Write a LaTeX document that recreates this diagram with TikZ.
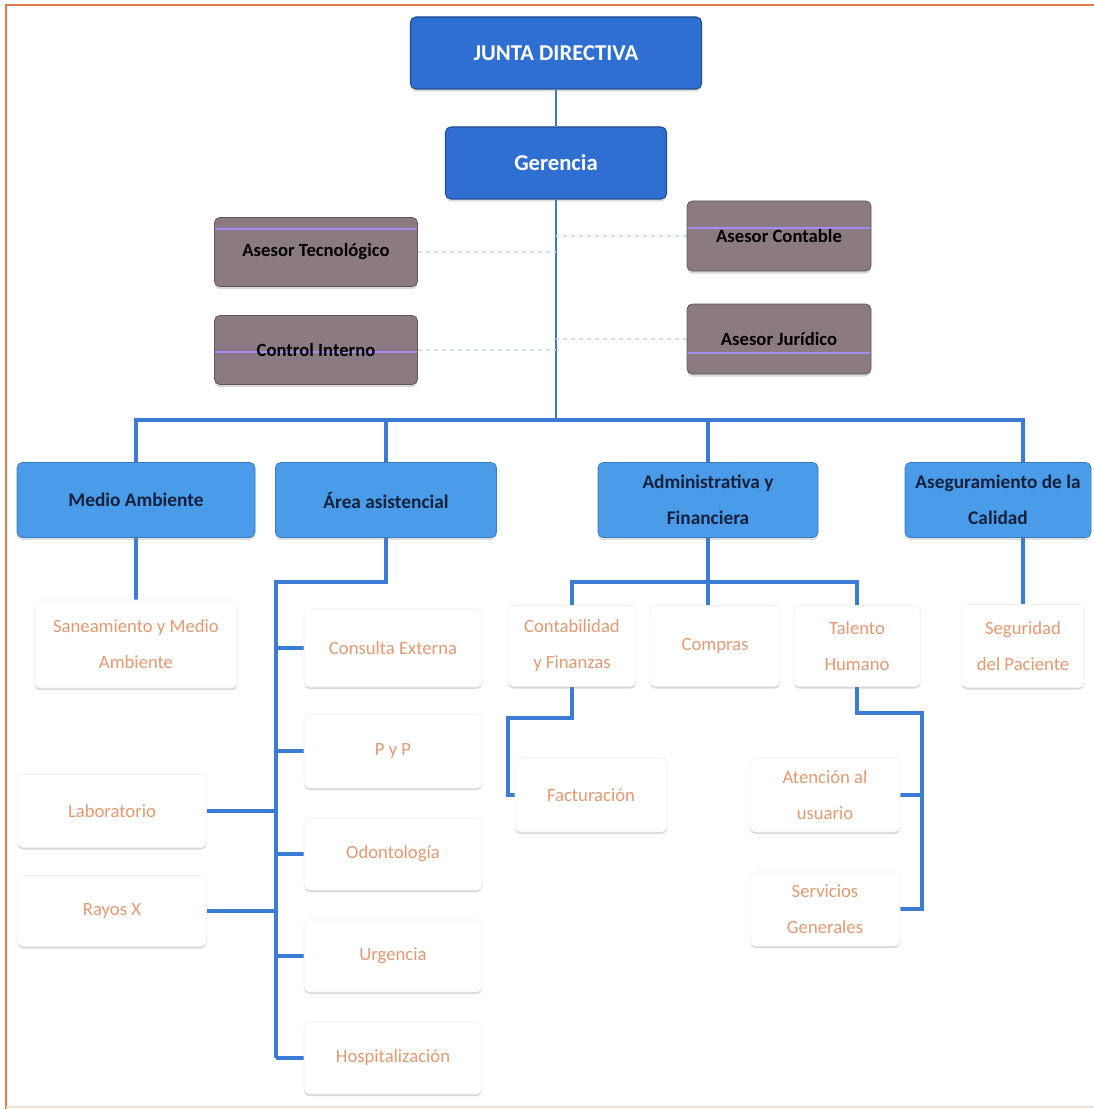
\documentclass[tikz,border=0pt]{standalone}
\usepackage{fontspec}
\setmainfont{Carlito}
\usetikzlibrary{shadows,backgrounds,calc}
\definecolor{topblue}{HTML}{2F6FD2}
\definecolor{lvlblue}{HTML}{4A9BE8}
\definecolor{advgray}{HTML}{8A7B82}
\definecolor{leaftext}{HTML}{E39A72}
\definecolor{linkblue}{HTML}{3B7BD4}
\definecolor{framecol}{HTML}{E07A50}
\definecolor{navy}{HTML}{14213D}
\definecolor{faintblue}{HTML}{CFE0F2}
\definecolor{lilac}{HTML}{A58CF0}
\tikzset{
  sz/.style 2 args={minimum width=0.75pt*#1, minimum height=0.75pt*#2},
  basebox/.style={rounded corners=4pt, inner sep=0pt, align=center},
  topbox/.style={basebox, fill=topblue, draw=topblue!70!black, line width=0.8pt, text=white,
     font=\bfseries\fontsize{17}{20}\selectfont,
     drop shadow={opacity=0.25, shadow xshift=0pt, shadow yshift=-2pt}},
  lvlbox/.style={basebox, fill=lvlblue, draw=lvlblue!80!black, line width=0.6pt, text=navy,
     font=\bfseries\fontsize{14.5}{27}\selectfont,
     drop shadow={opacity=0.25, shadow xshift=0pt, shadow yshift=-2pt}},
  advbox/.style={basebox, fill=advgray, draw=advgray!70!black, line width=0.6pt, text=black,
     font=\bfseries\fontsize{14}{17}\selectfont,
     drop shadow={opacity=0.3, shadow xshift=0pt, shadow yshift=-2pt}},
  leafbox/.style={basebox, fill=white, draw=black!6, line width=0.4pt, text=leaftext,
     font=\fontsize{14}{27}\selectfont,
     drop shadow={opacity=0.3, shadow xshift=0pt, shadow yshift=-1.5pt}},
  link/.style={draw=linkblue, line width=2.5pt},
  thinlink/.style={draw=linkblue, line width=1.7pt},
  advlink/.style={draw=faintblue, line width=1.5pt, dashed},
  lilacline/.style={draw=lilac, line width=1.2pt},
  lil/.style={path picture={\draw[lilacline] ($(path picture bounding box.west)+(0,#1)$) -- ($(path picture bounding box.east)+(0,#1)$);}},
}
\begin{document}
\begin{tikzpicture}[x=0.75pt,y=-0.75pt]
\useasboundingbox (0,0) rectangle (1094,1109);

% top level
\node[topbox, sz={291}{72}] (junta) at (556,53) {JUNTA DIRECTIVA};
\node[topbox, sz={221}{72}] (ger) at (556,163) {Gerencia};

% advisors
\node[advbox, sz={203}{69}, lil=-23] (at) at (316,252) {Asesor Tecnológico};
\node[advbox, sz={203}{69}, lil=2] (ci) at (316,350) {Control Interno};
\node[advbox, sz={184}{70}, lil=-8] (ac) at (779,236) {Asesor Contable};
\node[advbox, sz={184}{70}, lil=14] (aj) at (779,339) {Asesor Jurídico};

% level 2
\node[lvlbox, sz={238}{75}] (ma) at (136,500) {Medio Ambiente};
\node[lvlbox, sz={221}{75}] (aa) at (386,500) {Área asistencial};
\node[lvlbox, sz={220}{75}] (af) at (708,500) {Administrativa y\\Financiera};
\node[lvlbox, sz={186}{75}] (asc) at (998,500) {Aseguramiento de la\\Calidad};

% level 3
\node[leafbox, sz={203}{88}] (san) at (136,644) {Saneamiento y Medio\\Ambiente};
\node[leafbox, sz={178}{78}] (ce) at (393,648) {Consulta Externa};
\node[leafbox, sz={178}{74}] (pyp) at (393,751) {P y P};
\node[leafbox, sz={178}{72}] (odo) at (393,854) {Odontología};
\node[leafbox, sz={178}{72}] (urg) at (393,956) {Urgencia};
\node[leafbox, sz={178}{72}] (hos) at (393,1058) {Hospitalización};
\node[leafbox, sz={189}{73}] (lab) at (112,811) {Laboratorio};
\node[leafbox, sz={189}{71}] (rx) at (112,911) {Rayos X};
\node[leafbox, sz={128}{81}] (cf) at (572,646) {Contabilidad\\y Finanzas};
\node[leafbox, sz={130}{81}] (com) at (715,646) {Compras};
\node[leafbox, sz={127}{81}] (th) at (857,646) {Talento\\Humano};
\node[leafbox, sz={123}{83}] (seg) at (1023,646) {Seguridad\\del Paciente};
\node[leafbox, sz={152}{74}] (fac) at (591,795) {Facturación};
\node[leafbox, sz={150}{74}] (au) at (825,795) {Atención al\\usuario};
\node[leafbox, sz={150}{74}] (sg) at (825,909) {Servicios\\Generales};

% junctions
\coordinate (bus) at (556,420);
\coordinate (aaj) at (276,582);
\coordinate (afj) at (708,582);
\coordinate (cfj) at (508,718);
\coordinate (thj) at (922,713);

\begin{scope}[on background layer]
  \fill[white] (0,0) rectangle (1094,1109);
  % frame
  \draw[framecol, line width=1.5pt] (6,1109) -- (6,5) -- (1094,5);
  \draw[framecol!25, line width=1pt] (6,1107) -- (1094,1107);
  \draw[thinlink] (junta) -- (ger);
  \draw[thinlink] (ger) -- (bus);
  \draw[link] (bus) -| (san);
  \draw[link] (bus) -| (aa);
  \draw[link] (bus) -| (af);
  \draw[link] (bus) -| (seg);
  % advisors
  \draw[advlink] (at.east) -- (at.east -| bus);
  \draw[advlink] (ci.east) -- (ci.east -| bus);
  \draw[advlink] (ac.west) -- (ac.west -| bus);
  \draw[advlink] (aj.west) -- (aj.west -| bus);
  % area asistencial
  \draw[link] (aa.south) |- (aaj) -- (aaj |- hos);
  \draw[link] (aaj |- ce) -- (ce.west);
  \draw[link] (aaj |- pyp) -- (pyp.west);
  \draw[link] (aaj |- odo) -- (odo.west);
  \draw[link] (aaj |- urg) -- (urg.west);
  \draw[link] (aaj |- hos) -- (hos.west);
  \draw[link] (aaj |- lab) -- (lab.east);
  \draw[link] (aaj |- rx) -- (rx.east);
  % administrativa
  \draw[link] (af.south) -- (afj);
  \draw[link] (cf.north) |- (afj) -| (th.north);
  \draw[link] (afj) -- (afj |- com.north);
  \draw[link] (cf.south) |- (cfj) |- (fac.west);
  \draw[link] (th.south) |- (thj) |- (sg.east);
  \draw[link] (thj |- au) -- (au.east);
\end{scope}
\end{tikzpicture}
\end{document}
